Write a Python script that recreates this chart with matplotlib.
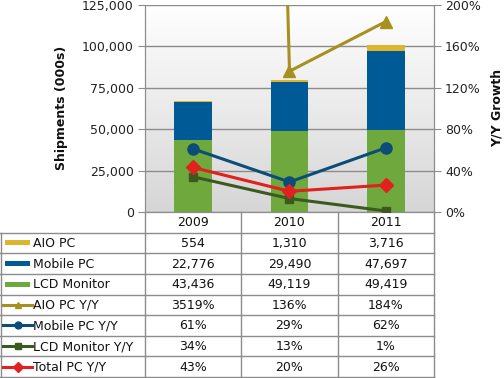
import matplotlib
matplotlib.use('Agg')
import matplotlib.pyplot as plt
import numpy as np
from matplotlib.colors import LinearSegmentedColormap
from matplotlib.lines import Line2D
from matplotlib.patches import Rectangle

years = ['2009', '2010', '2011']
aio = [554, 1310, 3716]
mobile = [22776, 29490, 47697]
lcd = [43436, 49119, 49419]
aio_yy = [3519, 136, 184]
mobile_yy = [61, 29, 62]
lcd_yy = [34, 13, 1]
total_yy = [43, 20, 26]

left_ticks = [0, 25000, 50000, 75000, 100000, 125000]
right_ticks = [0, 40, 80, 120, 160, 200]

C_AIO = '#DDB62E'
C_MOB = '#005A96'
C_LCD = '#6FA83C'
C_AIOYY = '#A8901E'
C_MOBYY = '#0B4D78'
C_LCDYY = '#3C5A1F'
C_TOT = '#E0211D'
GRID = '#8C8C8C'
FS = 9

plt.rcParams['font.family'] = ['DejaVu Sans']

W, H = 504, 378
fig = plt.figure(figsize=(5.04, 3.78), dpi=100)


def fx(px):
    return px / W


def fy(py):
    return 1 - py / H


L, R, T, B = 145, 434, 5, 212
ax = fig.add_axes([fx(L), fy(B), (R - L) / W, (B - T) / H])

cmap = LinearSegmentedColormap.from_list('g', ['#FFFFFF', '#D6D6D6'])
ax.imshow(np.linspace(0, 1, 256).reshape(-1, 1), cmap=cmap, extent=[0, 1, 0, 1],
          transform=ax.transAxes, aspect='auto', zorder=0)

x = np.arange(len(years))
bw = 0.39
ax.bar(x, lcd, bw, color=C_LCD, zorder=2)
ax.bar(x, mobile, bw, bottom=lcd, color=C_MOB, zorder=2)
ax.bar(x, aio, bw, bottom=np.array(lcd) + np.array(mobile), color=C_AIO, zorder=2)

ax.set_xlim(-0.5, 2.5)
ax.set_ylim(0, 125000)
ax.set_yticks(left_ticks)
ax.set_yticklabels([f'{v:,}' for v in left_ticks])
ax.set_xticks([])
ax.yaxis.grid(True, color=GRID, lw=1)
ax.set_axisbelow(True)
ax.tick_params(axis='y', direction='out', length=5, color=GRID, labelsize=FS, pad=3, labelcolor='#222222')
for s in ax.spines.values():
    s.set_color(GRID)
ax.spines['top'].set_visible(False)

ax2 = ax.twinx()
ax2.set_ylim(0, 200)
ax2.set_xlim(-0.5, 2.5)
ax2.set_yticks(right_ticks)
ax2.set_yticklabels([f'{v}%' for v in right_ticks])
ax2.tick_params(axis='y', direction='out', length=5, color=GRID, labelsize=FS, pad=3, labelcolor='#222222')
for s in ax2.spines.values():
    s.set_color(GRID)
ax2.spines['top'].set_visible(False)

series = [
    (aio_yy, C_AIOYY, '^', 8.5),
    (mobile_yy, C_MOBYY, 'o', 8),
    (lcd_yy, C_LCDYY, 's', 6),
    (total_yy, C_TOT, 'D', 7),
]
for vals, c, m, ms in series:
    ax2.plot(x, vals, color=c, lw=2.2, marker=m, markersize=ms, clip_on=True, zorder=3)

fig.text(fx(62), fy(108), 'Shipments (000s)', rotation=90, ha='center', va='center',
         fontsize=FS, fontweight='bold', color='#111111')
fig.text(fx(497), fy(108), 'Y/Y Growth', rotation=90, ha='center', va='center',
         fontsize=FS, fontweight='bold', color='#111111')

# table
rh = (377 - B) / 8.0
rows_y = [B + rh * i for i in range(9)]
cols_x = [0, L, L + (R - L) / 3, L + 2 * (R - L) / 3, R]


def hline(y, x0, x1):
    fig.add_artist(Line2D([fx(x0), fx(x1)], [fy(y), fy(y)], color=GRID, lw=1))


def vline(xp, y0, y1):
    fig.add_artist(Line2D([fx(xp), fx(xp)], [fy(y0), fy(y1)], color=GRID, lw=1))


for i in range(1, 9):
    hline(rows_y[i], 0, R)
vline(0.5, rows_y[1], rows_y[8])
for xp in cols_x[1:]:
    vline(xp, rows_y[0], rows_y[8])

for j, yr in enumerate(years):
    cx = (cols_x[j + 1] + cols_x[j + 2]) / 2
    fig.text(fx(cx), fy((rows_y[0] + rows_y[1]) / 2 + 0.5), yr, ha='center', va='center',
             fontsize=FS, color='#111111')

row_labels = ['AIO PC', 'Mobile PC', 'LCD Monitor', 'AIO PC Y/Y', 'Mobile PC Y/Y',
              'LCD Monitor Y/Y', 'Total PC Y/Y']
row_vals = [
    [f'{v:,}' for v in aio],
    [f'{v:,}' for v in mobile],
    [f'{v:,}' for v in lcd],
    [f'{v}%' for v in aio_yy],
    [f'{v}%' for v in mobile_yy],
    [f'{v}%' for v in lcd_yy],
    [f'{v}%' for v in total_yy],
]
swatches = [('bar', C_AIO, None), ('bar', C_MOB, None), ('bar', C_LCD, None),
            ('line', C_AIOYY, '^'), ('line', C_MOBYY, 'o'), ('line', C_LCDYY, 's'),
            ('line', C_TOT, 'D')]

for i, (lab, vals, sw) in enumerate(zip(row_labels, row_vals, swatches)):
    cy = (rows_y[i + 1] + rows_y[i + 2]) / 2
    kind, c, m = sw
    if kind == 'bar':
        fig.add_artist(Rectangle((fx(5), fy(cy + 2.5)), 25 / W, 5 / H, color=c, lw=0))
    else:
        fig.add_artist(Line2D([fx(3), fx(32)], [fy(cy), fy(cy)], color=c, lw=2.2))
        fig.add_artist(Line2D([fx(17.5)], [fy(cy)], color=c, marker=m, markersize=5,
                              lw=0))
    fig.text(fx(33), fy(cy + 0.5), lab, ha='left', va='center', fontsize=FS, color='#111111')
    for j, v in enumerate(vals):
        cx = (cols_x[j + 1] + cols_x[j + 2]) / 2
        fig.text(fx(cx), fy(cy + 0.5), v, ha='center', va='center', fontsize=FS,
                 color='#111111')

fig.savefig('out.png', dpi=100)
